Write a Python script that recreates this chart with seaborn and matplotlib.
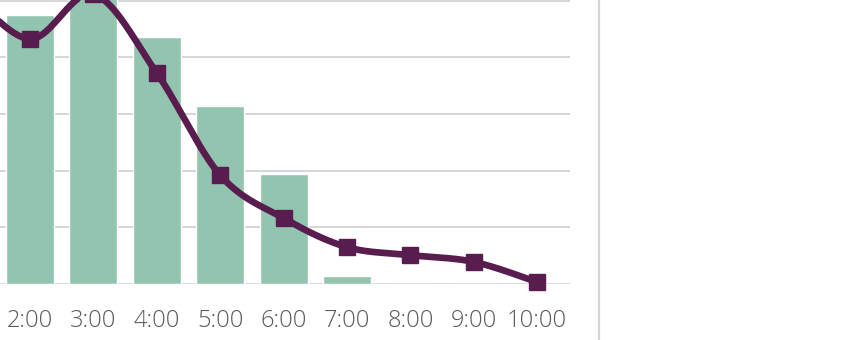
import numpy as np
import pandas as pd
import matplotlib
matplotlib.use("Agg")
import matplotlib.pyplot as plt
from matplotlib.lines import Line2D
import seaborn as sns

# ---- data (grid unit = 1) ----
hours = ["1:00", "2:00", "3:00", "4:00", "5:00", "6:00", "7:00", "8:00", "9:00", "10:00"]
bar_values = [5.10, 4.74, 5.15, 4.36, 3.14, 1.94, 0.14, 0.0, 0.0, 0.0]
line_values = [5.20, 4.32, 5.11, 3.72, 1.92, 1.16, 0.65, 0.51, 0.39, 0.035]

BAR_COLOR = "#92C5B0"
LINE_COLOR = "#581C4E"
GRID_COLOR = "#D6D6D6"
TEXT_COLOR = "#595959"

sns.set_theme(style="white")
plt.rcParams["font.family"] = ["Open Sans", "DejaVu Sans"]

W, H, DPI = 848, 340, 100
fig = plt.figure(figsize=(W / DPI, H / DPI), dpi=DPI)
fig.patch.set_facecolor("white")

# axes in pixel terms: baseline at y=284 px from top, one grid unit = 56.7 px
unit = 56.7
base_px = 284
ymax = 6.0
ax_bottom = (H - base_px) / H
ax_height = ymax * unit / H
ax_width = 570 / W
ax = fig.add_axes([0, ax_bottom, ax_width, ax_height])

df = pd.DataFrame({"hour": hours, "bars": bar_values, "line": line_values})
sns.barplot(data=df, x="hour", y="bars", order=hours, color=BAR_COLOR,
            width=0.76, saturation=1, ax=ax, zorder=2)

# smooth (Excel-like) curve through the line data
xs = np.arange(len(hours), dtype=float)
ys = np.array(line_values)
pts = np.column_stack([xs, ys])
curve = []
for i in range(len(pts) - 1):
    p0 = pts[i - 1] if i > 0 else pts[i]
    p1 = pts[i]
    p2 = pts[i + 1]
    p3 = pts[i + 2] if i + 2 < len(pts) else pts[i + 1]
    c1 = p1 + (p2 - p0) / 6.0
    c2 = p2 - (p3 - p1) / 6.0
    t = np.linspace(0, 1, 40)[:, None]
    seg = ((1 - t) ** 3) * p1 + 3 * ((1 - t) ** 2) * t * c1 + 3 * (1 - t) * t ** 2 * c2 + t ** 3 * p2
    curve.append(seg if i == 0 else seg[1:])
curve = np.vstack(curve)
ax.plot(curve[:, 0], curve[:, 1], color=LINE_COLOR, lw=4.8, zorder=4,
        solid_capstyle="round", clip_on=False)
ax.plot(xs, ys, linestyle="none", marker="s", markersize=11, color=LINE_COLOR,
        zorder=5, clip_on=False)

# scales
step = 63.4
x_left = 1 - 30 / step
x_right = 1 + (570 - 30) / step
ax.set_xlim(x_left, x_right)
ax.set_ylim(0, ymax)
ax.set_yticks(np.arange(0, ymax + 0.01, 1))
ax.yaxis.grid(True, color=GRID_COLOR, lw=1.4, zorder=0)
ax.xaxis.grid(False)
ax.set_axisbelow(True)
for s in ax.spines.values():
    s.set_visible(False)
ax.set_yticklabels([])
ax.set_xlabel("")
ax.set_ylabel("")
ax.tick_params(axis="x", length=0, pad=18, labelsize=17, labelcolor=TEXT_COLOR)
ax.tick_params(axis="y", length=0)
for lab in ax.get_xticklabels():
    lab.set_fontweight("light")

# container border on the right
fig.add_artist(Line2D([598.5 / W, 598.5 / W], [0, 1], color=GRID_COLOR, lw=1.6,
                      transform=fig.transFigure))

fig.savefig("out.png", dpi=DPI, facecolor="white")
